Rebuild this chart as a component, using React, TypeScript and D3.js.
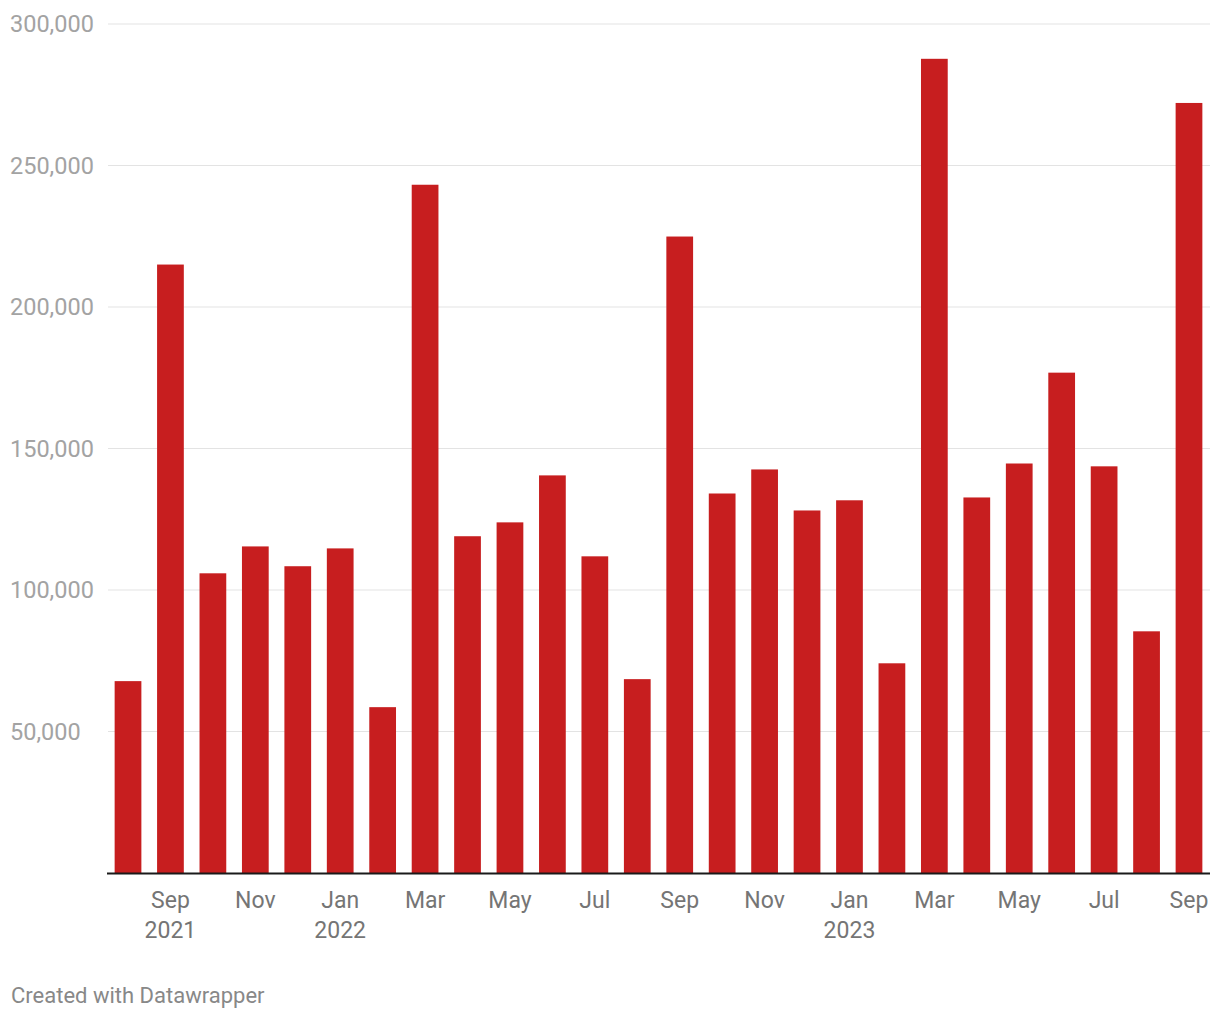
import React from "react";
import * as d3 from "d3";

const months = [
  "2021-08","2021-09","2021-10","2021-11","2021-12",
  "2022-01","2022-02","2022-03","2022-04","2022-05","2022-06","2022-07","2022-08","2022-09","2022-10","2022-11","2022-12",
  "2023-01","2023-02","2023-03","2023-04","2023-05","2023-06","2023-07","2023-08","2023-09",
];
const values = [
  67800, 215000, 105900, 115400, 108400,
  114700, 58600, 243200, 119000, 123900, 140500, 111900, 68500, 224900, 134100, 142600, 128100,
  131700, 74100, 287700, 132700, 144700, 176800, 143700, 85400, 272100,
];
const yTicks = [50000, 100000, 150000, 200000, 250000, 300000];
const monthNames = ["Jan","Feb","Mar","Apr","May","Jun","Jul","Aug","Sep","Oct","Nov","Dec"];
const footer = "Created with Datawrapper";

export default function App() {
  const W = 1220, H = 1020;
  const x = d3.scaleBand<string>().domain(months).range([107, 1210]).paddingInner(0.37).paddingOuter(0.18);
  const y = d3.scaleLinear().domain([0, 300000]).range([873, 24]);
  const fmt = d3.format(",");
  const font = "Roboto, 'Noto Sans', sans-serif";

  return (
    <svg width={W} height={H} style={{ position: "absolute", left: 0, top: 0, background: "#fff" }} fontFamily={font}>
      {yTicks.map((t) => (
        <g key={t}>
          <line x1={108} x2={1210} y1={y(t)} y2={y(t)} stroke="#e3e3e3" strokeWidth={1} />
          <text x={10} y={y(t)} dy="0.35em" textAnchor="start" fontSize={23.5} fill="#a3a3a3">
            {fmt(t)}
          </text>
        </g>
      ))}
      {months.map((m, i) => (
        <rect key={m} x={x(m)} width={x.bandwidth()} y={y(values[i])} height={y(0) - y(values[i])} fill="#c71e1f" />
      ))}
      <line x1={107} x2={1210} y1={y(0) + 0.5} y2={y(0) + 0.5} stroke="#1a1a1a" strokeWidth={2} />
      {months.map((m, i) => {
        const [yr, mo] = m.split("-").map(Number);
        if (i === 0 || mo % 2 === 0) return null;
        const cx = (x(m) as number) + x.bandwidth() / 2;
        const showYear = (yr === 2021 && mo === 9) || mo === 1;
        return (
          <g key={m}>
            <text x={cx} y={908} textAnchor="middle" fontSize={23} fill="#757575">{monthNames[mo - 1]}</text>
            {showYear && (
              <text x={cx} y={938} textAnchor="middle" fontSize={23} fill="#757575">{yr}</text>
            )}
          </g>
        );
      })}
      <text x={11} y={1003} fontSize={22} fill="#888888">{footer}</text>
    </svg>
  );
}
